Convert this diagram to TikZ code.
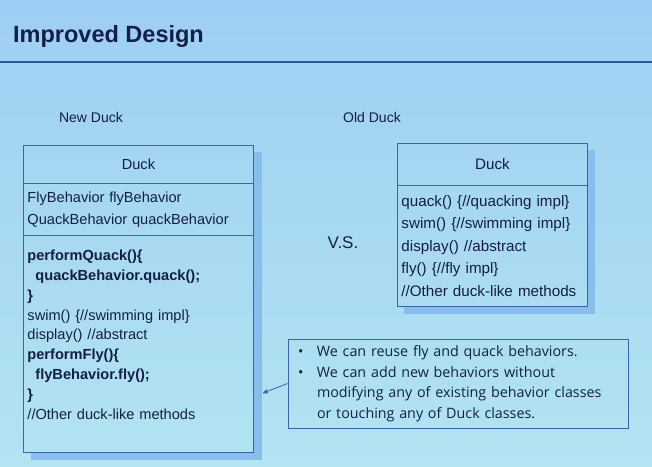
\documentclass[tikz,border=0pt]{standalone}
\usepackage{fontspec}
\setmainfont{Liberation Sans}
\newfontfamily\notefont{Open Sans}
\usetikzlibrary{positioning, arrows, backgrounds}
\definecolor{slidetop}{RGB}{158,206,243}
\definecolor{slidebot}{RGB}{178,228,242}
\definecolor{ink}{RGB}{20,30,70}
\definecolor{boxline}{RGB}{60,100,170}
\definecolor{rulec}{RGB}{45,85,165}
\definecolor{dropshade}{RGB}{135,190,235}
\tikzset{
        >=stealth', % small filled arrow heads
        x=1pt, y=1pt, % one unit is one pixel of the slide
    }
\tikzset{
      class box/.style={
		draw=boxline,
		line width=0.9pt,
		minimum width={#1},
		inner xsep=4pt,
	  },
      member box/.style={
		class box=#1,
		text width={#1},
		align=left,
	  },
  		caption/.style={
    	font=\fontsize{14}{16}\selectfont,
      },
      note box/.style={
		draw=boxline,
		line width=0.8pt,
		minimum width=340pt,
		minimum height=89pt,
		text width=320pt,
		inner xsep=10pt,
		align=left,
		font=\notefont\fontsize{14.3}{20.5}\selectfont,
	  }
  	}
\begin{document}
\begin{tikzpicture}[node distance=-0.9pt, text=ink]
    \useasboundingbox (0,0) rectangle (652,-466);
    % heading
    \node [anchor=base west, inner sep=0pt, font=\bfseries\fontsize{23.5}{28}\selectfont] (title) at (13,-42) {Improved Design};
    \draw [rulec, line width=2pt] (0,-62) -- (652,-62);
    \node [caption] (newlabel) at (91,-117) {New Duck};
    \node [caption] (oldlabel) at (372,-117) {Old Duck};
    % new duck
    \node [class box=230pt, minimum height=38pt, anchor=north west, font=\fontsize{14.6}{18}\selectfont] (newhead) at (23,-145) {Duck};
    \node [member box=222pt, minimum height=52pt, below=of newhead, font=\fontsize{14.6}{22}\selectfont] (newattr) {FlyBehavior flyBehavior\\QuackBehavior quackBehavior};
    \node [member box=222pt, minimum height=217pt, text depth=177pt, below=of newattr, font=\fontsize{14.6}{19.8}\selectfont] (newops) {\textbf{performQuack()\{}\\
      \hspace*{8pt}\textbf{quackBehavior.quack();}\\
      \textbf{\}}\\
      swim() \{//swimming impl\}\\
      display() //abstract\\
      \textbf{performFly()\{}\\
      \hspace*{8pt}\textbf{flyBehavior.fly();}\\
      \textbf{\}}\\
      //Other duck-like methods};
    % old duck
    \node [class box=190pt, minimum height=42pt, anchor=north west, font=\fontsize{15.2}{18}\selectfont] (oldhead) at (397,-143) {Duck};
    \node [member box=182pt, minimum height=121pt, below=of oldhead, font=\fontsize{15.2}{22.5}\selectfont] (oldops) {quack() \{//quacking impl\}\\
      swim() \{//swimming impl\}\\
      display() //abstract\\
      fly() \{//fly impl\}\\
      //Other duck-like methods};
    \node [font=\fontsize{17}{20}\selectfont] (vs) at (343,-243) {V.S.};
    % remarks
    \node [note box] (note) at (458,-383.5) {\makebox[19pt][l]{\textbullet}We can reuse fly and quack behaviors.\\
      \makebox[19pt][l]{\textbullet}We can add new behaviors without\\
      \hspace*{19pt}modifying any of existing behavior classes\\
      \hspace*{19pt}or touching any of Duck classes.};
    \coordinate (tip) at (263,-393);
    \draw [->, boxline, line width=0.8pt] (note.west) -- (tip);
    % slide and shadows
    \begin{scope}[on background layer]
      \shade [top color=slidetop, bottom color=slidebot] (0,0) rectangle (652,-466);
      \fill [dropshade] ([yshift=-7pt]newhead.north east) -- ([shift={(8pt,-7pt)}]newhead.north east)
        -- ([shift={(8pt,-7pt)}]newops.south east) -- ([shift={(8pt,-7pt)}]newops.south west)
        -- ([xshift=8pt]newops.south west) -- (newops.south east) -- cycle;
      \fill [dropshade] ([yshift=-7pt]oldhead.north east) -- ([shift={(7pt,-7pt)}]oldhead.north east)
        -- ([shift={(7pt,-7pt)}]oldops.south east) -- ([shift={(7pt,-7pt)}]oldops.south west)
        -- ([xshift=7pt]oldops.south west) -- (oldops.south east) -- cycle;
    \end{scope}
  \end{tikzpicture}
\end{document}
